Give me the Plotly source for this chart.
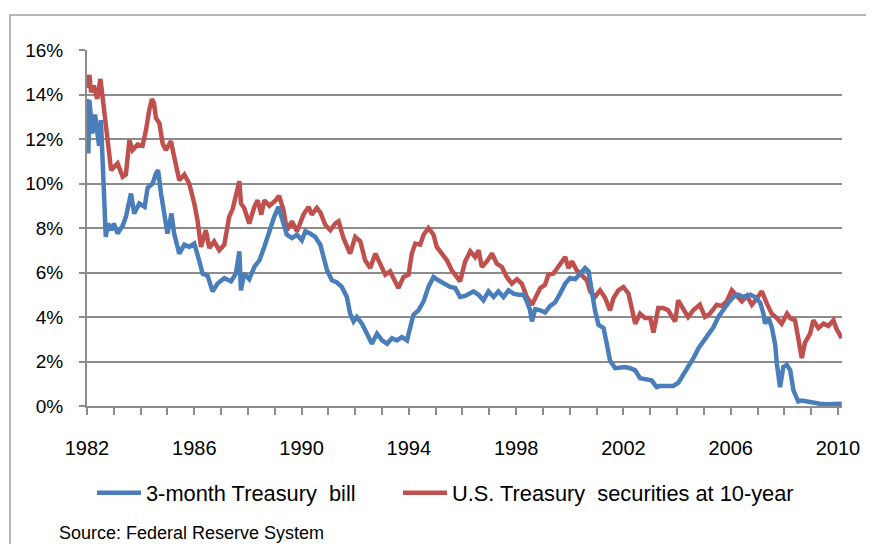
import plotly.graph_objects as go

# ---- data ----
red_t = [1982.00, 1982.09, 1982.15, 1982.25, 1982.38, 1982.50, 1982.56, 1982.70, 1982.83, 1982.90,
         1983.14, 1983.33, 1983.45, 1983.58, 1983.70, 1983.89, 1984.07, 1984.20, 1984.32, 1984.42,
         1984.50, 1984.57, 1984.70, 1984.82, 1984.94, 1985.13, 1985.25, 1985.44, 1985.63, 1985.81,
         1986.00, 1986.12, 1986.25, 1986.43, 1986.56, 1986.74, 1986.93, 1987.12, 1987.30, 1987.43,
         1987.68, 1987.74, 1987.86, 1988.05, 1988.24, 1988.36, 1988.50, 1988.61, 1988.80, 1989.04,
         1989.16, 1989.33, 1989.45, 1989.64, 1989.83, 1990.07, 1990.26, 1990.38, 1990.57, 1990.70,
         1990.88, 1991.07, 1991.25, 1991.38, 1991.56, 1991.81, 1992.00, 1992.19, 1992.37, 1992.56,
         1992.75, 1992.93, 1993.12, 1993.30, 1993.49, 1993.61, 1993.80, 1993.99, 1994.11, 1994.24,
         1994.42, 1994.55, 1994.73, 1994.92, 1995.04, 1995.23, 1995.42, 1995.60, 1995.79, 1995.91,
         1996.10, 1996.29, 1996.47, 1996.60, 1996.72, 1996.91, 1997.10, 1997.28, 1997.47, 1997.65,
         1997.84, 1998.03, 1998.21, 1998.40, 1998.59, 1998.71, 1998.90, 1999.08, 1999.20, 1999.39,
         1999.58, 1999.76, 1999.83, 1999.95, 2000.08, 2000.26, 2000.45, 2000.64, 2000.76, 2000.94,
         2001.13, 2001.32, 2001.50, 2001.63, 2001.81, 2002.00, 2002.19, 2002.31, 2002.44, 2002.62,
         2002.81, 2003.00, 2003.12, 2003.30, 2003.49, 2003.67, 2003.93, 2004.04, 2004.23, 2004.41,
         2004.60, 2004.85, 2005.04, 2005.23, 2005.48, 2005.66, 2005.85, 2006.04, 2006.23, 2006.42,
         2006.60, 2006.79, 2006.98, 2007.16, 2007.35, 2007.53, 2007.72, 2007.90, 2008.10, 2008.22,
         2008.40, 2008.52, 2008.65, 2008.77, 2008.96, 2009.08, 2009.27, 2009.46, 2009.64, 2009.83,
         2009.95, 2010.14]
red_v = [14.3, 14.88, 14.1, 14.4, 13.8, 14.7, 14.1, 12.55, 11.05, 10.6,
         10.9, 10.3, 10.4, 11.95, 11.5, 11.75, 11.7, 12.4, 13.3, 13.8,
         13.6, 12.95, 12.7, 11.8, 11.5, 11.9, 11.2, 10.15, 10.4, 10.0,
         9.1, 8.35, 7.15, 7.9, 7.1, 7.4, 7.0, 7.25, 8.5, 8.85,
         10.1, 9.1, 8.9, 8.2, 8.95, 9.25, 8.6, 9.25, 9.0, 9.25,
         9.45, 8.8, 7.9, 8.3, 7.85, 8.6, 8.95, 8.6, 8.9, 8.7,
         8.15, 7.9, 8.2, 8.3, 7.55, 6.85, 7.6, 7.4, 6.55, 6.2,
         6.85, 6.35, 5.9, 6.05, 5.65, 5.3, 5.8, 5.9, 6.85, 7.3,
         7.25, 7.7, 8.0, 7.7, 7.15, 6.85, 6.55, 6.1, 5.8, 5.6,
         6.5, 6.95, 6.7, 7.0, 6.25, 6.5, 6.85, 6.4, 6.25, 5.8,
         5.5, 5.7, 5.5, 4.9, 4.55, 4.85, 5.3, 5.45, 5.9, 5.95,
         6.25, 6.55, 6.7, 6.2, 6.5, 6.1, 5.9, 5.65, 5.15, 4.9,
         5.2, 4.85, 4.3, 4.85, 5.2, 5.35, 5.05, 4.45, 3.7, 4.15,
         3.95, 3.95, 3.3, 4.4, 4.4, 4.3, 3.8, 4.75, 4.4, 4.0,
         4.3, 4.55, 4.0, 4.15, 4.55, 4.5, 4.7, 5.2, 4.95, 4.7,
         4.95, 4.55, 4.85, 5.15, 4.6, 4.15, 3.95, 3.7, 4.15, 3.95,
         3.85, 2.95, 2.15, 2.85, 3.25, 3.85, 3.5, 3.7, 3.6, 3.85,
         3.45, 3.05]

blue_t = [1982.00, 1982.05, 1982.09, 1982.20, 1982.30, 1982.40, 1982.45, 1982.52, 1982.58, 1982.64,
          1982.70, 1982.78, 1982.90, 1983.00, 1983.14, 1983.33, 1983.45, 1983.64, 1983.76, 1983.95,
          1984.15, 1984.26, 1984.45, 1984.57, 1984.65, 1984.76, 1984.88, 1985.00, 1985.15, 1985.25,
          1985.44, 1985.63, 1985.81, 1986.00, 1986.18, 1986.31, 1986.50, 1986.68, 1986.87, 1987.12,
          1987.37, 1987.55, 1987.68, 1987.74, 1987.86, 1988.05, 1988.24, 1988.43, 1988.61, 1988.80,
          1988.98, 1989.14, 1989.27, 1989.45, 1989.64, 1989.83, 1990.01, 1990.14, 1990.32, 1990.51,
          1990.70, 1990.82, 1990.95, 1991.13, 1991.32, 1991.50, 1991.69, 1991.81, 1991.94, 1992.06,
          1992.25, 1992.44, 1992.62, 1992.81, 1993.00, 1993.19, 1993.37, 1993.56, 1993.74, 1993.93,
          1994.05, 1994.17, 1994.36, 1994.55, 1994.73, 1994.92, 1995.10, 1995.29, 1995.54, 1995.73,
          1995.91, 1996.10, 1996.29, 1996.41, 1996.60, 1996.78, 1996.97, 1997.16, 1997.34, 1997.53,
          1997.72, 1997.90, 1998.09, 1998.28, 1998.40, 1998.52, 1998.59, 1998.71, 1998.90, 1999.08,
          1999.27, 1999.45, 1999.64, 1999.83, 2000.01, 2000.20, 2000.39, 2000.57, 2000.70, 2000.82,
          2000.94, 2001.07, 2001.26, 2001.38, 2001.50, 2001.69, 2001.88, 2002.06, 2002.25, 2002.44,
          2002.62, 2002.87, 2003.05, 2003.24, 2003.37, 2003.61, 2003.86, 2004.05, 2004.23, 2004.42,
          2004.61, 2004.80, 2004.98, 2005.17, 2005.36, 2005.54, 2005.73, 2005.92, 2006.10, 2006.29,
          2006.48, 2006.73, 2006.91, 2007.10, 2007.22, 2007.28, 2007.41, 2007.53, 2007.66, 2007.72,
          2007.84, 2007.96, 2008.09, 2008.22, 2008.34, 2008.52, 2008.65, 2008.83, 2009.08, 2009.33,
          2009.58, 2009.83, 2010.14]
blue_v = [13.8, 11.35, 13.75, 12.25, 13.1, 12.1, 11.7, 12.85, 11.2, 9.55,
          7.6, 8.2, 7.9, 8.2, 7.75, 8.1, 8.5, 9.55, 8.65, 9.1,
          8.95, 9.8, 10.0, 10.45, 10.6, 9.55, 8.5, 7.75, 8.65, 7.75,
          6.85, 7.25, 7.15, 7.3, 6.55, 5.95, 5.85, 5.15, 5.5, 5.75,
          5.6, 5.95, 6.95, 5.2, 5.95, 5.7, 6.25, 6.55, 7.15, 7.9,
          8.5, 8.95, 8.35, 7.7, 7.55, 7.7, 7.45, 7.85, 7.75, 7.6,
          7.25, 6.7, 6.1, 5.65, 5.55, 5.35, 4.9, 4.15, 3.8, 4.0,
          3.7, 3.25, 2.8, 3.25, 2.95, 2.8, 3.05, 2.95, 3.1, 2.95,
          3.55, 4.1, 4.3, 4.7, 5.35, 5.8, 5.65, 5.5, 5.35, 5.3,
          4.9, 4.95, 5.05, 5.15, 5.0, 4.75, 5.15, 4.9, 5.15, 4.9,
          5.2, 5.05, 5.0, 5.0, 4.7, 4.3, 3.8, 4.35, 4.3, 4.2,
          4.5, 4.65, 5.05, 5.5, 5.75, 5.7, 5.95, 6.2, 6.05, 5.05,
          4.3, 3.65, 3.5, 2.8, 2.05, 1.7, 1.75, 1.75, 1.7, 1.6,
          1.25, 1.2, 1.15, 0.85, 0.9, 0.9, 0.9, 1.05, 1.4, 1.7,
          2.15, 2.6, 2.9, 3.2, 3.55, 4.0, 4.35, 4.65, 4.9, 5.0,
          4.9, 5.0, 4.9, 4.65, 4.15, 3.7, 3.95, 3.55, 2.75, 1.9,
          0.85, 1.75, 1.85, 1.6, 0.7, 0.2, 0.25, 0.2, 0.17, 0.1,
          0.08, 0.1, 0.1]

x_tick_vals = [1982, 1986, 1990, 1994, 1998, 2002, 2006, 2010]
x_tick_text = ["1982", "1986", "1990", "1994", "1998", "2002", "2006", "2010"]
y_tick_vals = [0, 2, 4, 6, 8, 10, 12, 14, 16]
y_tick_text = ["0%", "2%", "4%", "6%", "8%", "10%", "12%", "14%", "16%"]

series_names = ["3-month Treasury\u00a0 bill", "U.S. Treasury\u00a0 securities at 10-year"]
source_text = "Source: Federal Reserve System"

FONT = "Liberation Sans, Arial, sans-serif"
GRID = "#8c8c8c"

# the page body has an 8px default margin, so the figure is drawn 8px smaller
W, H = 866, 536
PL, PR, PT, PB = 79, 32, 42, 138
pw = W - PL - PR
ph = H - PT - PB


def px_x(p):   # page pixel x -> paper x
    return (p - 8 - PL) / pw


def px_y(p):   # page pixel y -> paper y
    return (H - PB - (p - 8)) / ph


fig = go.Figure()
fig.add_trace(go.Scatter(x=red_t, y=red_v, mode="lines", name=series_names[1],
                         line=dict(color="#c0504d", width=4.5), legend="legend2"))
fig.add_trace(go.Scatter(x=blue_t, y=blue_v, mode="lines", name=series_names[0],
                         line=dict(color="#4a7ebb", width=4.5), legend="legend"))

leg_common = dict(orientation="h", yanchor="middle", y=px_y(493), xanchor="left",
                  itemwidth=44, font=dict(size=21.8, family=FONT),
                  bgcolor="rgba(0,0,0,0)")

fig.update_layout(
    width=W, height=H,
    margin=dict(l=PL, r=PR, t=PT, b=PB, autoexpand=False),
    paper_bgcolor="white", plot_bgcolor="white",
    font=dict(family=FONT, size=20, color="#000000"),
    showlegend=True,
    legend=dict(x=px_x(92), **leg_common),
    legend2=dict(x=px_x(398), **leg_common),
    xaxis=dict(range=[1982, 2010.15], tickmode="array", tickvals=x_tick_vals,
               ticktext=x_tick_text, showgrid=False, zeroline=False,
               showline=True, linecolor=GRID, linewidth=2,
               ticks="outside", ticklen=7, tickcolor=GRID, tickwidth=1.5,
               ticklabelstandoff=16,
               minor=dict(dtick=1, tick0=1982, ticks="outside", ticklen=7,
                          tickcolor=GRID, tickwidth=1.5, showgrid=False),
               tickfont=dict(size=20)),
    yaxis=dict(range=[0, 16], tickmode="array", tickvals=y_tick_vals,
               ticktext=y_tick_text, showgrid=True, gridcolor=GRID, gridwidth=1.5,
               zeroline=False, showline=True, linecolor=GRID, linewidth=2,
               ticks="outside", ticklen=6, tickcolor=GRID, tickwidth=1.5,
               ticklabelstandoff=12, tickfont=dict(size=19)),
    shapes=[dict(type="rect", xref="paper", yref="paper",
                 x0=px_x(10), x1=px_x(920),
                 y0=px_y(600), y1=px_y(15),
                 line=dict(color="#a0a0a0", width=1.5), fillcolor="rgba(0,0,0,0)",
                 layer="below")],
    annotations=[dict(text=source_text, xref="paper", yref="paper",
                      x=px_x(57), xanchor="left",
                      y=px_y(533), yanchor="middle", showarrow=False,
                      font=dict(size=18, family=FONT, color="#000000"))],
)

fig.write_html("out.html")
